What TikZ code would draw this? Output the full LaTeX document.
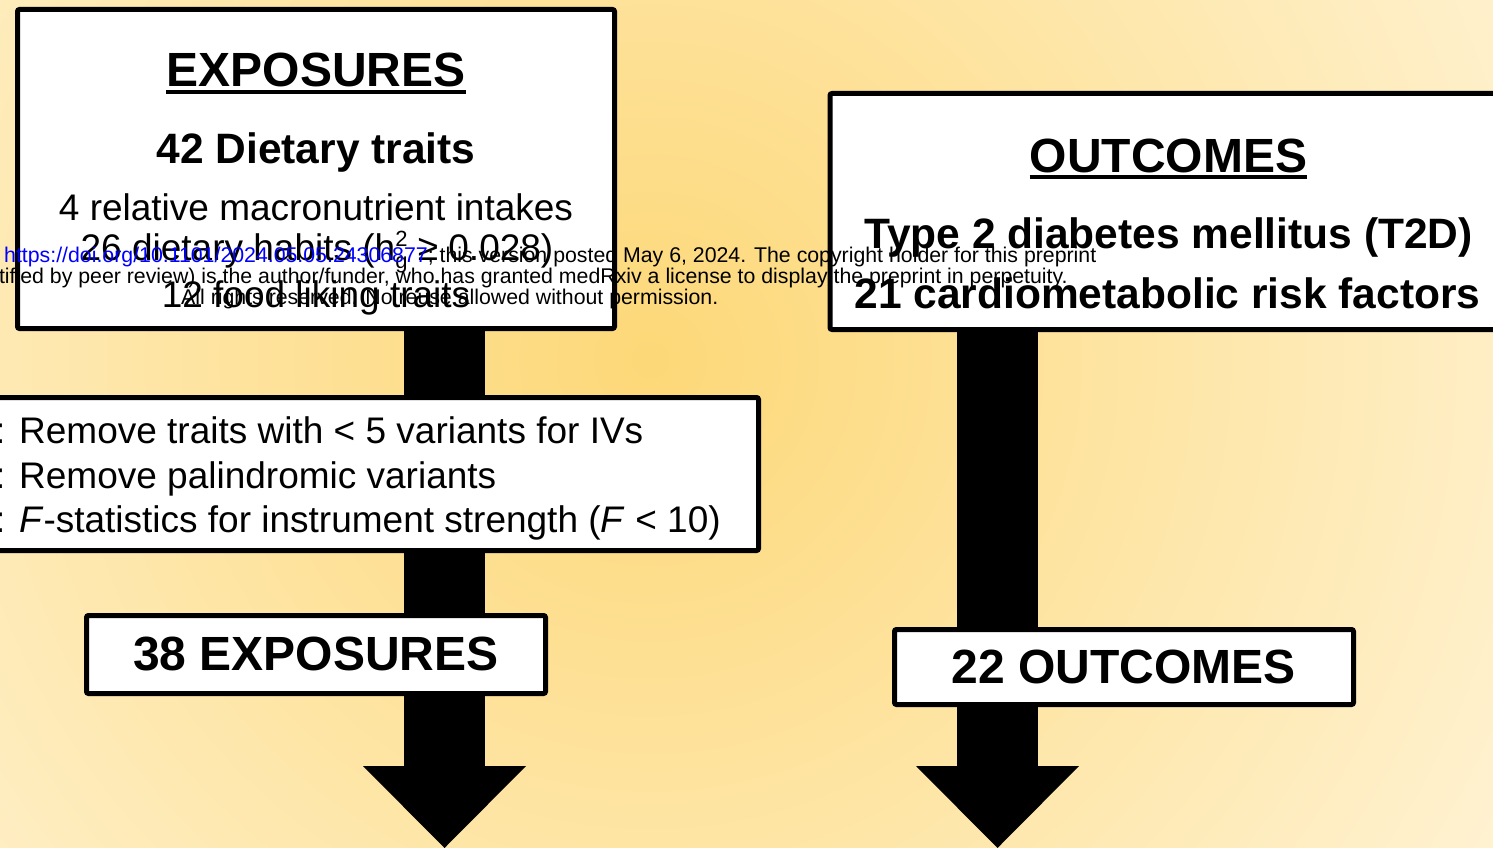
\documentclass[tikz,border=0pt]{standalone}
\usepackage{fontspec}
\setmainfont{Liberation Sans}
\usepackage{tikz}
\usetikzlibrary{arrows.meta,backgrounds}
\usepackage{xcolor}
\definecolor{glowin}{HTML}{FDD878}
\definecolor{glowout}{HTML}{FFF4D8}
\definecolor{doiblue}{HTML}{0000FF}
\newcommand{\fs}[1]{\fontsize{#1}{#1}\selectfont}
\tikzset{
  box/.style={draw,line width=5pt,fill=white,rounded corners=2pt,inner sep=0pt},
  txt/.style={inner sep=0pt,anchor=base},
  fatarrow/.style={line width=81pt,-{Triangle[length=82pt,width=163pt,line width=0pt]}},
  ul/.style={line width=3.5pt}
}

\begin{document}
\begin{tikzpicture}[x=1pt,y=-1pt]
	\useasboundingbox (0,0) rectangle (1493,848);
	\clip (0,0) rectangle (1493,848);

	\node[box,minimum width=597pt,minimum height=319pt] (expo) at (316,169) {};
	\node[box,minimum width=799pt,minimum height=153pt] (filter) at (359,474) {};
	\node[box,minimum width=459pt,minimum height=78pt,font=\fs{48}\bfseries] (expoN) at (316,654.5) {38 EXPOSURES};
	\node[box,minimum width=710pt,minimum height=236pt] (outc) at (1185,211.5) {};
	\node[box,minimum width=459pt,minimum height=75pt,font=\fs{48}\bfseries] (outcN) at (1124,667) {22 OUTCOMES};

	\coordinate (tipL) at (444.5,848);
	\coordinate (tipR) at (997.5,848);

	\begin{scope}[on background layer]
		\shade[inner color=glowin,outer color=glowout] (650,360) circle (1050pt);
		\draw[fatarrow] (expo.south -| tipL) -- (tipL);
		\draw[fatarrow] (outc.south -| tipR) -- (tipR);
	\end{scope}

	\node[txt,font=\fs{48}\bfseries] (expoHead) at (316,87) {EXPOSURES};
	\draw[ul] ([yshift=-5pt]expoHead.base west) -- ([yshift=-5pt]expoHead.base east);
	\node[txt,font=\fs{42.5}\bfseries] (dietary) at (316,164) {42 Dietary traits};
	\node[txt,font=\fs{37}] (macro) at (316,220) {4 relative macronutrient intakes};
	\node[txt,font=\fs{37}] (habits) at (317,260) {26 dietary habits (h\rlap{\raisebox{14pt}{\fs{22}2}}\raisebox{-8pt}{\fs{22}g} ≥ 0.028)};
	\node[txt,font=\fs{37}] (liking) at (316,307) {12 food liking traits};

	\node[txt,anchor=base west,font=\fs{37}] (stepA) at (-5,443) {: Remove traits with < 5 variants for IVs};
	\node[txt,anchor=base west,font=\fs{37}] (stepB) at (-5,488) {: Remove palindromic variants};
	\node[txt,anchor=base west,font=\fs{37}] (stepC) at (-5,532) {: \textit{F}-statistics for instrument strength (\textit{F} < 10)};

	\node[txt,font=\fs{48}\bfseries] (outcHead) at (1168.5,172) {OUTCOMES};
	\draw[ul] ([yshift=-5pt]outcHead.base west) -- ([yshift=-5pt]outcHead.base east);
	\node[txt,font=\fs{42.5}\bfseries] (t2d) at (1168.5,248) {Type 2 diabetes mellitus (T2D)};
	\node[txt,font=\fs{42.5}\bfseries] (risk) at (1167.5,308) {21 cardiometabolic risk factors};

	\node[txt,anchor=base west,font=\fs{21.3}] (noteA) at (4,262) {\textcolor{doiblue}{https://doi.org/10.1101/2024.05.05.24306877}; this version posted May 6, 2024. The copyright holder for this preprint};
	\node[txt,anchor=base east,font=\fs{21.3}] (noteB) at (1068,283) {(which was not certified by peer review) is the author/funder, who has granted medRxiv a license to display the preprint in perpetuity.};
	\node[txt,anchor=base west,font=\fs{21.3}] (noteC) at (181,304) {All rights reserved. No reuse allowed without permission.};
\end{tikzpicture}
\end{document}
